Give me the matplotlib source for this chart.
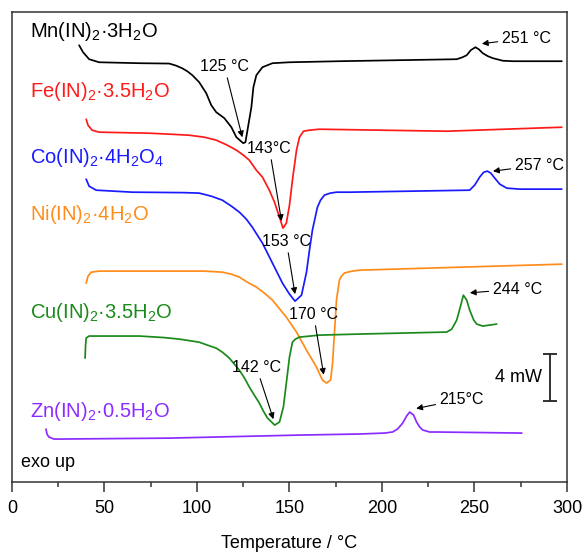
import numpy as np
import matplotlib
matplotlib.use("Agg")
import matplotlib.pyplot as plt

plt.rcParams['font.family'] = ['Liberation Sans', 'DejaVu Sans']
plt.rcParams['mathtext.default'] = 'regular'

# DSC traces, temperature in degC and heat flow in mW (curves stacked with offsets)
mn_T = [36.3, 38.4, 41.7, 47.1, 68.8, 85.0, 88.8, 92.0, 94.7, 97.5, 101.2, 105.0, 107.7,
        110.4, 114.8, 118.6, 121.3, 125.0, 126.2, 127.3, 129.4, 130.5, 132.1, 135.4, 140.8,
        150.0, 177.0, 240.4, 243.6, 245.8, 248.0, 250.5, 252.3, 254.5, 257.2, 259.9, 265.3,
        270.7, 297.2]
mn_y = [37.19, 36.60, 36.00, 35.74, 35.66, 35.63, 35.45, 35.23, 34.98, 34.64, 34.04, 33.11,
        32.09, 31.49, 30.98, 30.21, 29.36, 28.85, 28.94, 29.96, 31.91, 33.62, 34.64, 35.32,
        35.66, 35.74, 35.83, 36.00, 36.17, 36.34, 36.77, 37.02, 36.85, 36.51, 36.26, 36.09,
        35.87, 35.83, 35.83]

fe_T = [40.1, 41.1, 43.3, 47.1, 74.2, 85.0, 95.8, 104.0, 110.4, 116.4, 121.3, 125.1, 128.3,
        132.1, 135.4, 139.1, 141.9, 144.6, 146.5, 148.3, 150.0, 151.6, 153.8, 155.4, 157.6,
        160.8, 166.2, 235.0, 297.2]
fe_y = [30.89, 30.38, 29.96, 29.79, 29.70, 29.62, 29.53, 29.36, 29.11, 28.68, 28.26, 27.83,
        27.40, 26.55, 25.96, 24.85, 23.83, 22.55, 21.62, 22.04, 23.57, 25.70, 28.26, 29.36,
        29.87, 29.96, 30.04, 29.87, 30.21]

co_T = [40.1, 41.7, 45.5, 65.0, 93.1, 101.2, 107.7, 113.7, 118.6, 122.9, 126.7, 129.9, 135.4,
        140.8, 146.2, 150.0, 153.0, 156.5, 159.2, 160.8, 162.4, 165.1, 166.8, 168.9, 172.1,
        175.4, 182.5, 247.4, 250.1, 252.8, 255.0, 257.0, 258.8, 261.0, 263.7, 267.5, 274.5,
        297.2]
co_y = [25.79, 25.19, 24.85, 24.68, 24.64, 24.60, 24.34, 24.00, 23.49, 22.98, 22.38, 21.70,
        20.34, 18.64, 16.94, 16.00, 15.40, 15.91, 17.87, 19.74, 21.45, 23.40, 24.00, 24.43,
        24.60, 24.68, 24.68, 24.85, 25.28, 25.96, 26.38, 26.47, 26.30, 25.87, 25.36, 25.02,
        24.94, 24.94]

ni_T = [40.1, 41.1, 42.8, 47.1, 90.4, 104.0, 113.7, 118.6, 122.9, 127.2, 132.1, 136.4, 140.8,
        148.3, 153.8, 159.2, 164.6, 167.8, 170.0, 172.2, 173.3, 174.3, 175.4, 177.0, 178.1,
        179.7, 181.4, 184.0, 187.9, 297.2]
ni_y = [16.94, 17.53, 17.87, 17.96, 17.96, 17.96, 17.87, 17.70, 17.45, 17.02, 16.60, 16.09,
        15.49, 14.04, 12.77, 11.23, 9.79, 8.68, 8.43, 8.68, 10.13, 12.68, 15.49, 17.19, 17.53,
        17.79, 17.87, 17.96, 18.04, 18.55]

cu_T = [39.5, 39.8, 40.1, 41.7, 43.3, 68.8, 82.3, 90.4, 95.8, 101.2, 105.6, 110.4, 113.7,
        117.5, 120.2, 122.9, 125.7, 128.3, 131.0, 133.7, 135.9, 138.1, 142.0, 144.6, 146.7,
        148.3, 150.0, 151.6, 153.2, 155.4, 166.2, 187.9, 235.0, 237.7, 240.4, 242.6, 244.0,
        245.8, 247.4, 249.6, 251.2, 254.5, 262.0]
cu_y = [10.55, 11.66, 12.26, 12.43, 12.43, 12.43, 12.30, 12.17, 12.04, 11.91, 11.66, 11.40,
        11.06, 10.55, 10.04, 9.53, 8.85, 8.09, 7.40, 6.72, 6.04, 5.45, 4.85, 5.11, 6.38,
        8.43, 10.64, 11.91, 12.17, 12.34, 12.51, 12.60, 12.77, 13.02, 13.79, 15.06, 15.91,
        15.49, 14.64, 13.79, 13.45, 13.28, 13.45]

zn_T = [18.4, 18.9, 20.0, 22.7, 25.4, 85.0, 155.4, 187.9, 201.4, 205.7, 208.4, 211.2, 213.3,
        215.0, 217.1, 218.7, 220.4, 222.0, 225.8, 229.6, 275.6]
zn_y = [4.51, 4.09, 3.83, 3.66, 3.66, 3.74, 4.00, 4.09, 4.17, 4.26, 4.51, 5.02, 5.62,
        5.96, 5.70, 5.11, 4.68, 4.43, 4.26, 4.26, 4.17]

names = [r'Mn(IN)$_2$·3H$_2$O', r'Fe(IN)$_2$·3.5H$_2$O', r'Co(IN)$_2$·4H$_2$O$_4$',
         r'Ni(IN)$_2$·4H$_2$O', r'Cu(IN)$_2$·3.5H$_2$O', r'Zn(IN)$_2$·0.5H$_2$O']
colors = ['black', '#ff1a1a', '#1a1aff', '#ff8c1a', '#1a8a1a', '#8c2bff']
label_y = [37.87, 32.77, 27.15, 22.30, 13.96, 5.53]

series = [(mn_T, mn_y), (fe_T, fe_y), (co_T, co_y), (ni_T, ni_y), (cu_T, cu_y), (zn_T, zn_y)]

scale_mW = 4

fig = plt.figure(figsize=(5.87, 5.56), dpi=100)
ax = fig.add_axes([0.0204, 0.133, 0.9455, 0.845])

for (T, y), c, name, ly in zip(series, colors, names, label_y):
    ax.plot(T, y, color=c, lw=1.25, solid_joinstyle='round', solid_capstyle='round')
    ax.text(9.8, ly, name, color=c, fontsize=14.5, va='baseline', ha='left')

# peak annotations: (series index, text, text position, 'min' or 'max', arrow tip offset)
notes = [
    (0, '125 °C', (114.8, 35.4), 'min', (-0.5, 0.5)),
    (1, '143°C', (139.1, 28.43), 'min', (-0.8, 0.6)),
    (2, '153 °C', (148.3, 20.51), 'min', (0.0, 0.6)),
    (3, '170 °C', (163.0, 14.3), 'min', (-1.5, 0.7)),
    (4, '142 °C', (132.1, 9.79), 'min', (-0.7, 0.5)),
    (0, '251 °C', (264.8, 37.79), 'max', (3.5, 0.3)),
    (2, '257 °C', (271.8, 26.98), 'max', (3.0, 0.0)),
    (4, '244 °C', (259.9, 16.43), 'max', (3.5, 0.2)),
    (5, '215°C', (231.2, 7.06), 'max', (3.5, 0.3)),
]
for idx, txt, pos, kind, (dx, dy) in notes:
    T = np.asarray(series[idx][0])
    y = np.asarray(series[idx][1])
    if kind == 'min':
        i = int(np.argmin(y))
    else:
        # exothermic peaks sit above 200 degC
        i = int(np.argmax(np.where(T > 200, y, -np.inf)))
    ax.annotate(txt, xy=(T[i] + dx, y[i] + dy), xytext=pos, fontsize=11.5,
                ha='center' if kind == 'min' else 'left', va='center',
                arrowprops=dict(arrowstyle='-|>', color='black', lw=0.8,
                                mutation_scale=9, shrinkA=1, shrinkB=0))

# scale bar
ax.errorbar([290.7], [8.93], yerr=scale_mW / 2, color='#222222', capsize=5, lw=1.3,
            capthick=1.3)
ax.text(286.5, 8.93, '%d mW' % scale_mW, fontsize=13, ha='right', va='center')

ax.text(4.9, 1.28, 'exo up', fontsize=13, ha='left', va='baseline')

ax.set_xlim(0, 300)
ax.set_ylim(0, 40)
ax.set_yticks([])
ax.set_xticks(range(0, 301, 50))
ax.set_xticks(range(25, 300, 50), minor=True)
ax.tick_params(axis='x', which='major', direction='out', length=7, width=1.1,
               labelsize=13, pad=6, color='#333333')
ax.tick_params(axis='x', which='minor', direction='out', length=3.5, width=1.1,
               color='#333333')
for s in ax.spines.values():
    s.set_linewidth(1.1)
    s.set_color('#333333')
ax.set_xlabel('Temperature / °C', fontsize=13, labelpad=13)

fig.savefig('out.png', dpi=100)
plt.close(fig)
